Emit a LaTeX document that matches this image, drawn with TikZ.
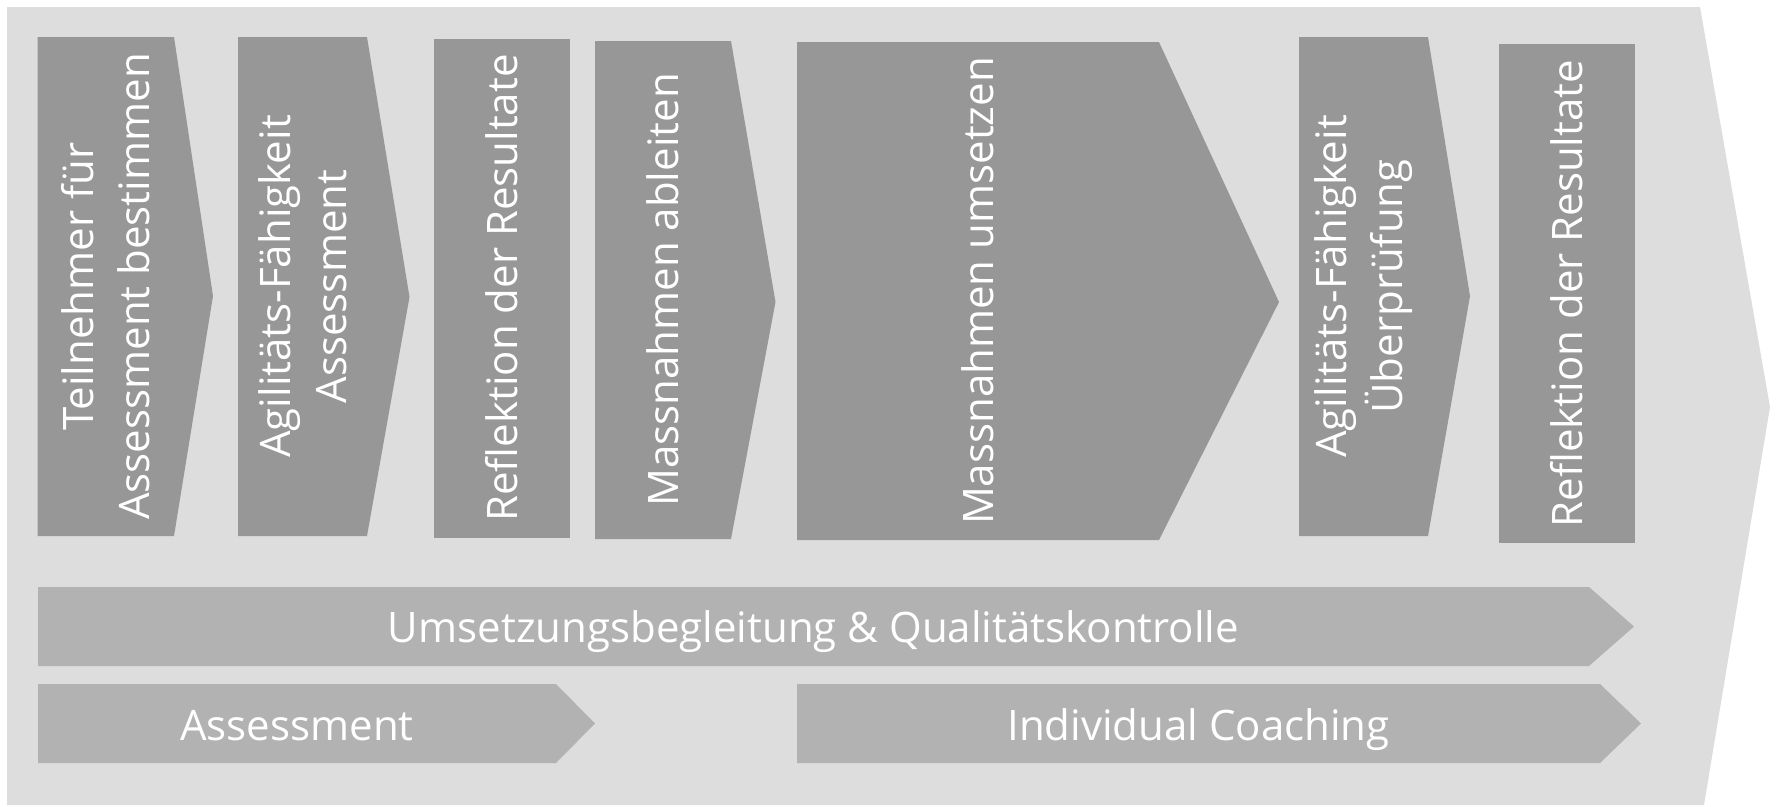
\documentclass[tikz,border=0pt]{standalone}
\usepackage{fontspec}
\setmainfont{Open Sans}
\begin{document}
\begin{tikzpicture}[x=1pt,y=-1pt,
  bgshape/.style={fill=bgc},
  stepshape/.style={fill=stepc},
  barshape/.style={fill=barc},
  steptext/.style={rotate=90,align=center,text=white,inner sep=0pt,
    font=\fontsize{42}{56}\selectfont},
  bartext/.style={anchor=base,text=white,inner sep=0pt,
    font=\fontsize{42}{50}\selectfont}]
\definecolor{bgc}{HTML}{DDDDDD}
\definecolor{stepc}{HTML}{979797}
\definecolor{barc}{HTML}{B2B2B2}
\useasboundingbox (0,0) rectangle (1777,806);
% large background arrow
\fill[bgshape] (7,7) -- (1700,7) -- (1770,407) -- (1704,805) -- (7,805) -- cycle;
% process steps
\fill[stepshape] (37.5,37) -- (174,37) -- (213,296) -- (174,536) -- (37.5,536) -- cycle;
\fill[stepshape] (238,37) -- (367,37) -- (409.5,297) -- (367,536) -- (238,536) -- cycle;
\fill[stepshape] (434,38.5) rectangle (570,537.5);
\fill[stepshape] (595,41) -- (731,41) -- (775.5,302) -- (731,539) -- (595,539) -- cycle;
\fill[stepshape] (797,42) -- (1159,42) -- (1279,302) -- (1159,540) -- (797,540) -- cycle;
\fill[stepshape] (1299,37) -- (1428,37) -- (1470,296) -- (1428,536) -- (1299,536) -- cycle;
\fill[stepshape] (1499,44) rectangle (1635,543);
\node[steptext] (s1) at (106,286.5) {Teilnehmer für\\Assessment bestimmen};
\node[steptext] (s2) at (302.5,286.5) {Agilitäts-Fähigkeit\\Assessment};
\node[steptext] (s3) at (502,288) {Reflektion der Resultate};
\node[steptext] (s4) at (663,290) {Massnahmen ableiten};
\node[steptext] (s5) at (978,291) {Massnahmen umsetzen};
\node[steptext] (s6) at (1363.5,286.5) {Agilitäts-Fähigkeit\\Überprüfung};
\node[steptext] (s7) at (1567,293.5) {Reflektion der Resultate};
% accompanying bars
\fill[barshape] (38,587) -- (1589,587) -- (1634,626.5) -- (1589,666) -- (38,666) -- cycle;
\fill[barshape] (38,684) -- (556,684) -- (595,723.5) -- (556,763) -- (38,763) -- cycle;
\fill[barshape] (797,684) -- (1600,684) -- (1641,723.5) -- (1600,763) -- (797,763) -- cycle;
\node[bartext] (b1) at (813.5,642) {Umsetzungsbegleitung \& Qualitätskontrolle};
\node[bartext] (b2) at (297,740) {Assessment};
\node[bartext] (b3) at (1198.5,740) {Individual Coaching};
\end{tikzpicture}
\end{document}
